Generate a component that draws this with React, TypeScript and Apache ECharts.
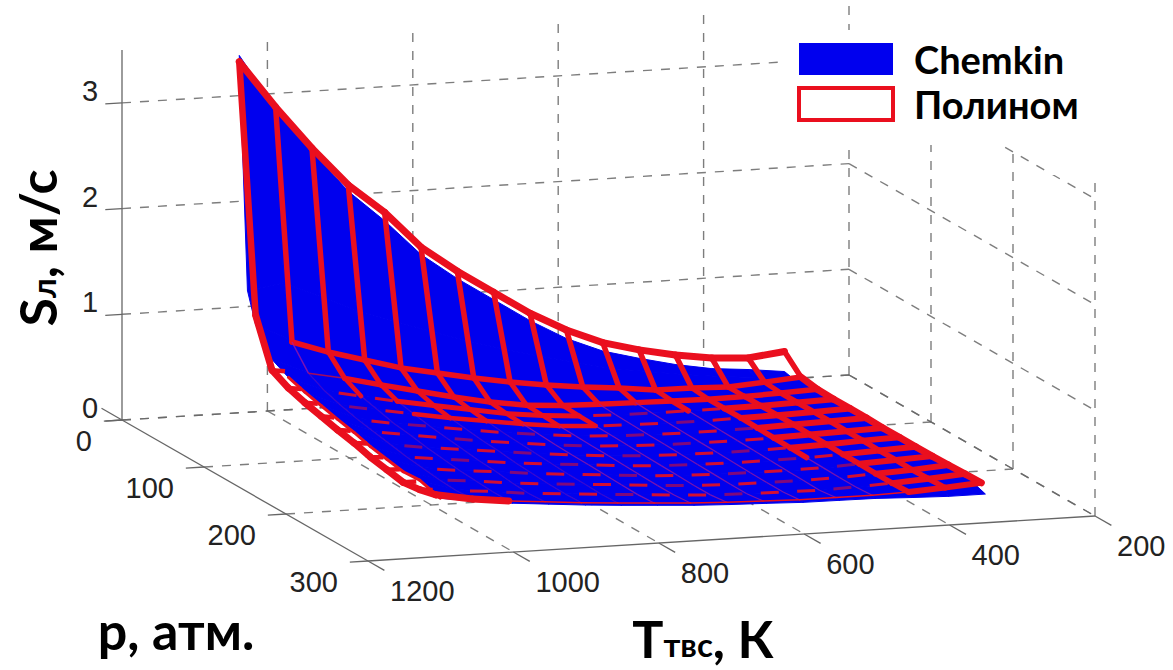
import React, { useEffect, useRef } from "react";
import * as echarts from "echarts";

const temperatureTicks = [1200, 1000, 800, 600, 400, 200];
const pressureTicks = [0, 100, 200, 300];
const speedTicks = [0, 1, 2, 3];
const surfaceT = [1050, 1000, 950, 900, 850, 800, 750, 700, 650, 600, 550, 500, 450, 400, 350, 300];
const polyP = [10, 30, 50, 70, 90, 110, 130, 150, 170, 190, 210, 230, 250];
const chemkinP = [10, 20, 30, 50, 70, 90, 110, 130, 150, 170, 190, 210, 230, 255];

const polyS = [
  [3.37, 2.92, 2.51, 2.14, 1.86, 1.51, 1.26, 1.04, 0.82, 0.64, 0.5, 0.41, 0.34, 0.29, 0.27, 0.31],
  [1.06, 0.786, 0.67, 0.573, 0.477, 0.408, 0.34, 0.28, 0.23, 0.19, 0.16, 0.12, 0.117, 0.105, 0.13, 0.157],
  [0.63, 0.58, 0.51, 0.427, 0.348, 0.27, 0.2, 0.15, 0.125, 0.115, 0.11, 0.105, 0.1, 0.105, 0.115, 0.13],
  [0.55, 0.5, 0.43, 0.36, 0.3, 0.24, 0.18, 0.14, 0.115, 0.105, 0.1, 0.1, 0.1, 0.105, 0.115, 0.125],
  [0.5, 0.45, 0.39, 0.33, 0.27, 0.22, 0.17, 0.13, 0.11, 0.1, 0.095, 0.095, 0.1, 0.105, 0.115, 0.125],
  [0.46, 0.41, 0.35, 0.3, 0.25, 0.2, 0.16, 0.125, 0.105, 0.095, 0.09, 0.09, 0.095, 0.105, 0.115, 0.125],
  [0.42, 0.38, 0.33, 0.28, 0.23, 0.19, 0.15, 0.12, 0.1, 0.09, 0.085, 0.085, 0.09, 0.1, 0.11, 0.12],
  [0.386, 0.35, 0.3, 0.26, 0.22, 0.18, 0.145, 0.115, 0.095, 0.085, 0.08, 0.08, 0.085, 0.095, 0.11, 0.12],
  [0.34, 0.32, 0.28, 0.24, 0.2, 0.17, 0.14, 0.11, 0.09, 0.08, 0.075, 0.075, 0.08, 0.09, 0.105, 0.12],
  [0.31, 0.3, 0.26, 0.23, 0.19, 0.16, 0.135, 0.105, 0.085, 0.075, 0.07, 0.07, 0.075, 0.09, 0.105, 0.12],
  [0.28, 0.28, 0.25, 0.21, 0.18, 0.155, 0.13, 0.1, 0.08, 0.07, 0.065, 0.065, 0.07, 0.085, 0.1, 0.125],
  [0.3, 0.27, 0.24, 0.2, 0.175, 0.15, 0.125, 0.1, 0.08, 0.07, 0.065, 0.06, 0.07, 0.085, 0.105, 0.13],
  [0.34, 0.28, 0.24, 0.21, 0.18, 0.156, 0.135, 0.114, 0.1, 0.09, 0.08, 0.08, 0.08, 0.09, 0.11, 0.135],
];

const chemkinS = [
  [3.43, 2.9, 2.48, 2.08, 1.78, 1.44, 1.19, 0.97, 0.75, 0.56, 0.42, 0.33, 0.25, 0.19, 0.16, 0.12],
  [1.25, 1.3, 1.15, 1.0, 0.88, 0.76, 0.65, 0.55, 0.46, 0.38, 0.3, 0.25, 0.2, 0.16, 0.13, 0.1],
  [0.97, 0.8, 0.68, 0.58, 0.48, 0.41, 0.34, 0.28, 0.23, 0.19, 0.15, 0.12, 0.11, 0.1, 0.12, 0.13],
  [0.73, 0.59, 0.51, 0.43, 0.35, 0.27, 0.2, 0.15, 0.125, 0.115, 0.11, 0.1, 0.095, 0.1, 0.11, 0.12],
  [0.65, 0.51, 0.44, 0.37, 0.3, 0.24, 0.18, 0.14, 0.115, 0.105, 0.1, 0.095, 0.09, 0.1, 0.11, 0.12],
  [0.6, 0.46, 0.4, 0.33, 0.27, 0.22, 0.17, 0.13, 0.11, 0.1, 0.095, 0.09, 0.09, 0.1, 0.11, 0.12],
  [0.56, 0.42, 0.36, 0.3, 0.25, 0.2, 0.16, 0.125, 0.105, 0.095, 0.09, 0.085, 0.09, 0.1, 0.11, 0.12],
  [0.52, 0.39, 0.33, 0.28, 0.23, 0.19, 0.15, 0.12, 0.1, 0.09, 0.085, 0.08, 0.085, 0.095, 0.105, 0.115],
  [0.485, 0.36, 0.3, 0.26, 0.22, 0.18, 0.145, 0.115, 0.095, 0.085, 0.08, 0.075, 0.08, 0.09, 0.105, 0.115],
  [0.44, 0.33, 0.28, 0.24, 0.2, 0.17, 0.14, 0.11, 0.09, 0.08, 0.075, 0.07, 0.075, 0.085, 0.1, 0.115],
  [0.41, 0.31, 0.26, 0.23, 0.19, 0.16, 0.135, 0.105, 0.085, 0.075, 0.07, 0.065, 0.07, 0.085, 0.1, 0.115],
  [0.38, 0.29, 0.25, 0.21, 0.18, 0.155, 0.13, 0.1, 0.08, 0.07, 0.065, 0.06, 0.065, 0.08, 0.095, 0.115],
  [0.39, 0.28, 0.24, 0.2, 0.175, 0.15, 0.125, 0.1, 0.08, 0.07, 0.065, 0.06, 0.065, 0.08, 0.095, 0.12],
  [0.33, 0.28, 0.24, 0.21, 0.18, 0.156, 0.135, 0.114, 0.1, 0.09, 0.078, 0.076, 0.073, 0.06, 0.05, 0.05],
];

const BLUE = "#0000ee";
const RED = "#ea0f1e";
const INK = "#222222";

// Orthographic view of the 3-D box onto the page
const project = (t: number, p: number, s: number): [number, number] => {
  const a = (1200 - t) / 1000;
  const b = p / 300;
  return [122 + 727 * a + 246 * b, 420 - 45 * a + 141 * b - 105.7 * s];
};

type Seg = [number, number, number, number, number, number, number];
const gridSegs: Seg[] = [];
const S_TOP = 3.5;
temperatureTicks.forEach((t, i) => {
  gridSegs.push([t, 0, 0, t, 300, 0, i === 0 ? 1 : 0]);
  if (i > 0) gridSegs.push([t, 0, 0, t, 0, S_TOP, 0]);
  gridSegs.push([t, 300, 0, t, 320, 0, 2]);
});
pressureTicks.forEach((p, i) => {
  gridSegs.push([1200, p, 0, 200, p, 0, i === 3 ? 1 : 0]);
  if (i > 0) gridSegs.push([200, p, 0, 200, p, S_TOP, 0]);
});
speedTicks.forEach((s) => {
  gridSegs.push([1200, 0, s, 200, 0, s, 0]);
  gridSegs.push([200, 0, s, 200, 300, s, 0]);
  gridSegs.push([1200, 0, s, 1223, 0, s, 2]);
});
gridSegs.push([1200, 0, 0, 1200, 0, S_TOP, 1]);
pressureTicks.forEach((p) => gridSegs.push([1200, p, 0, 1225, p, 0, 2]));
gridSegs.push([1200, 0, 0, 1200, -25, 0, 2]);

const cells: number[][] = [];
chemkinP.slice(1).forEach((_, i) => surfaceT.slice(1).forEach((__, j) => cells.push([i, j])));

const meshSegs: number[][] = [];
polyP.forEach((_, i) => surfaceT.forEach((__, j) => {
  if (j < surfaceT.length - 1) meshSegs.push([i, j, 0]);
  if (i < polyP.length - 1) meshSegs.push([i, j, 1]);
}));

const edgeSegs: number[][] = [];
chemkinP.slice(4, -1).forEach((_, i) => edgeSegs.push([i + 4]));

const masks = [[785, 30, 388, 115], [1050, 145, 123, 30]];

const thickZone = (i: number, j: number) => j >= 11 + Math.round(i * 0.2);

const meshStyle = (i: number, j: number, dir: number): any => {
  const solid = (w: number) => ({ stroke: RED, lineWidth: w, lineCap: "round" });
  const hidden = { stroke: "#000", lineWidth: 0, opacity: 0 };
  const rowDash = {
    stroke: RED,
    lineWidth: 3,
    lineDash: [18, 18],
    lineDashOffset: -8 - (i % 2) * 6,
    opacity: (i * 2 + j) % 3 === 0 ? 0.55 : 0.9,
  };
  if (dir === 0) {
    if (i === 0) return solid(7);
    if (j === 0) {
      if (i === polyP.length - 1) return solid(7);
      if (i < 2) return hidden;
      return { stroke: RED, lineWidth: 4.5, lineDash: [13, 100] };
    }
    if (i === 1) return solid(5.5);
    if (i === 2) return j >= 2 ? solid(5.5) : { stroke: RED, lineWidth: 1.5, opacity: 0.7 };
    if (i === polyP.length - 1) {
      if (j <= 1) return solid(7);
      return thickZone(i, j) ? solid(6) : solid(1.5);
    }
    if (thickZone(i, j)) return solid(6);
    if ((i === 3 || i === 4) && j >= 3 && j <= 7) return solid(i === 3 ? 5 : 4.5);
    return rowDash;
  }
  if (i === 0) return solid(j === 0 ? 6.5 : 5.5);
  if (j === 0 || j === surfaceT.length - 1) return solid(7);
  if (i === 1 && j === 1) return { stroke: "#b0189a", lineWidth: 1.5, opacity: 0.7 };
  if (i === 1) return solid(5);
  if ((i === 2 || i === 3) && j >= 2 + (i - 2) * 2 && j <= 8) return solid(4.5);
  if (thickZone(i, j)) return solid(5.5);
  return { stroke: "#a0189a", lineWidth: 1.2, opacity: j >= 6 ? 0.75 : 0.35 };
};

export default function App() {
  const ref = useRef<HTMLDivElement>(null);
  useEffect(() => {
    if (!ref.current) return;
    const chart = echarts.init(ref.current, undefined, { renderer: "svg" });

    const tickText = (text: string, x: number, y: number, align: string) => ({
      type: "text",
      x,
      y,
      silent: true,
      style: {
        text,
        align,
        verticalAlign: "middle",
        fontFamily: "Liberation Sans",
        fontSize: 29,
        fill: INK,
      },
    });
    const labels: any[] = [];
    speedTicks.forEach((s) => {
      const [x, y] = project(1200, 0, s);
      labels.push(tickText(String(s), x - 32, y - 12, "center"));
    });
    pressureTicks.forEach((p) => {
      const [x, y] = project(1200, p, 0);
      labels.push(tickText(String(p), x - 30, y + 21, "right"));
    });
    temperatureTicks.forEach((t) => {
      const [x, y] = project(t, 300, 0);
      labels.push(tickText(String(t), x + 22, y + 30, "left"));
    });
    const rich = {
      b: { fontFamily: "Lato", fontWeight: "bold", fontSize: 52, fill: "#000" },
      s: { fontFamily: "Lato", fontWeight: "bold", fontSize: 33, fill: "#000", padding: [12, 0, 0, 0] },
    };
    labels.push({
      type: "text",
      x: 37,
      y: 248,
      rotation: Math.PI / 2,
      silent: true,
      style: { text: "{b|S}{s|л}{b|, м/с}", rich, align: "center", verticalAlign: "middle" },
    });
    labels.push({
      type: "text",
      x: 703,
      y: 638,
      silent: true,
      style: { text: "{b|Т}{s|твс}{b|, К}", rich, align: "center", verticalAlign: "middle" },
    });
    labels.push({
      type: "text",
      x: 176,
      y: 630,
      silent: true,
      style: {
        text: "p, атм.",
        align: "center",
        verticalAlign: "middle",
        fontFamily: "Lato",
        fontWeight: "bold",
        fontSize: 52,
        fill: "#000",
      },
    });

    const line = (api: any, a: [number, number], b: [number, number], style: any) => {
      const p1 = api.coord(a);
      const p2 = api.coord(b);
      return { type: "line", shape: { x1: p1[0], y1: p1[1], x2: p2[0], y2: p2[1] }, style };
    };

    chart.setOption({
      animation: false,
      backgroundColor: "#ffffff",
      grid: { left: 0, right: 0, top: 0, bottom: 0, containLabel: false },
      xAxis: { type: "value", min: 0, max: 1173, show: false },
      yAxis: { type: "value", min: 0, max: 670, inverse: true, show: false },
      legend: {
        left: 792,
        top: 35,
        orient: "vertical",
        itemWidth: 94,
        itemHeight: 32,
        itemGap: 7,
        selectedMode: false,
        textStyle: {
          fontFamily: "Lato",
          fontWeight: "bold",
          fontSize: 38,
          lineHeight: 32,
          color: "#000",
          padding: [0, 0, 6, 16],
        },
        data: [
          { name: "Chemkin", icon: "rect", itemStyle: { color: BLUE, borderWidth: 0 } },
          { name: "Полином", icon: "rect", itemStyle: { color: "#ffffff", borderColor: RED, borderWidth: 4 } },
        ],
      },
      graphic: { elements: labels },
      series: [
        {
          type: "custom",
          name: "grid3d",
          silent: true,
          clip: false,
          z: 1,
          data: gridSegs,
          renderItem: (p: any, api: any) => {
            const v = gridSegs[p.dataIndex];
            const a = project(v[0], v[1], v[2]);
            const b = project(v[3], v[4], v[5]);
            const style =
              v[6] === 0
                ? { stroke: "#666666", lineWidth: 1.4, lineDash: [9, 9], opacity: 0.85 }
                : { stroke: "#666666", lineWidth: 1.3 };
            return line(api, a, b, style);
          },
        },
        {
          type: "custom",
          name: "legendBack",
          silent: true,
          clip: false,
          z: 2,
          data: masks,
          renderItem: (p: any, api: any) => {
            const m = masks[p.dataIndex];
            const c = api.coord([m[0], m[1]]);
            return { type: "rect", shape: { x: c[0], y: c[1], width: m[2], height: m[3] }, style: { fill: "#ffffff" } };
          },
        },
        {
          type: "custom",
          name: "Chemkin",
          silent: true,
          clip: false,
          z: 3,
          itemStyle: { color: BLUE },
          data: cells,
          renderItem: (p: any, api: any) => {
            const [i, j] = cells[p.dataIndex];
            const pt = (r: number, c: number) => api.coord(project(surfaceT[c], chemkinP[r], chemkinS[r][c]));
            return {
              type: "polygon",
              shape: { points: [pt(i, j), pt(i, j + 1), pt(i + 1, j + 1), pt(i + 1, j)] },
              style: { fill: BLUE, stroke: BLUE, lineWidth: 1 },
            };
          },
        },
        {
          type: "custom",
          name: "Полином",
          silent: true,
          clip: false,
          z: 4,
          itemStyle: { color: "#ffffff", borderColor: RED },
          data: meshSegs,
          renderItem: (p: any, api: any) => {
            const [i, j, dir] = meshSegs[p.dataIndex];
            const i2 = dir === 1 ? i + 1 : i;
            const j2 = dir === 0 ? j + 1 : j;
            const a = project(surfaceT[j], polyP[i], polyS[i][j]);
            const b = project(surfaceT[j2], polyP[i2], polyS[i2][j2]);
            return line(api, a, b, meshStyle(i, j, dir));
          },
        },
        {
          type: "custom",
          name: "chemkinEdge",
          silent: true,
          clip: false,
          z: 5,
          data: edgeSegs,
          renderItem: (p: any, api: any) => {
            const r = edgeSegs[p.dataIndex][0];
            const a = project(surfaceT[0], chemkinP[r], chemkinS[r][0]);
            const b = project(surfaceT[0], chemkinP[r + 1], chemkinS[r + 1][0]);
            return line(api, a, b, { stroke: RED, lineWidth: 3, lineCap: "round" });
          },
        },
      ],
    });
    return () => chart.dispose();
  }, []);
  return (
    <div
      ref={ref}
      style={{ position: "fixed", left: 0, top: 0, width: 1173, height: 670, background: "#fff" }}
    />
  );
}
